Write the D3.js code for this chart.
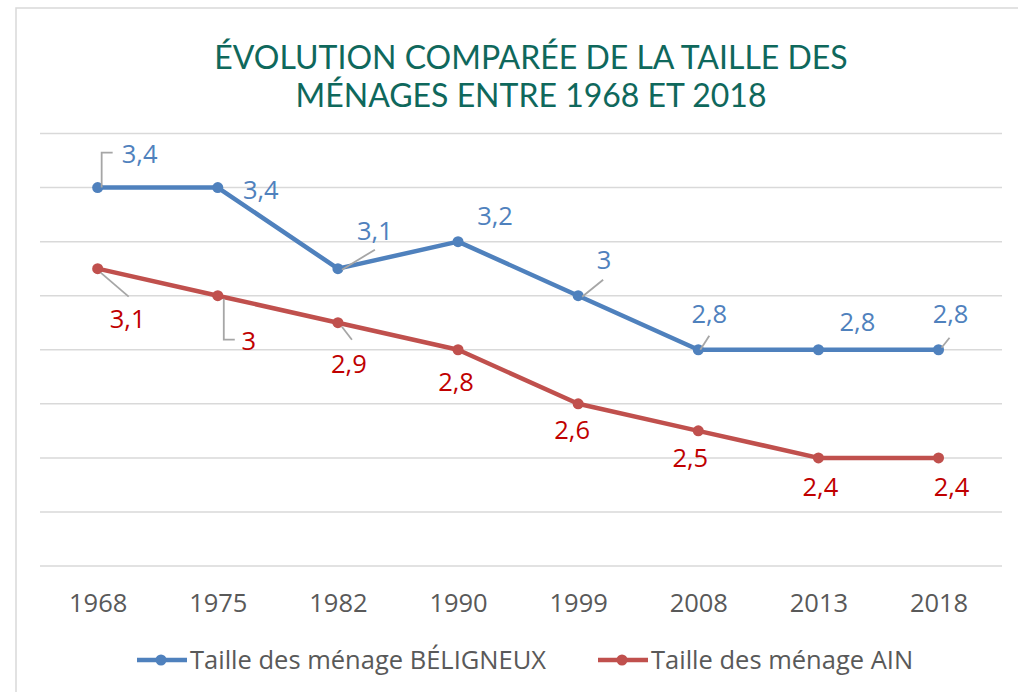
<!DOCTYPE html>
<html>
<head>
<meta charset="utf-8">
<script src="https://cdn.jsdelivr.net/npm/d3@7"></script>
<style>
  body { margin: 0; background: #fff; }
  svg { display: block; }
</style>
</head>
<body>
<div id="chart"></div>
<script>
var years = ["1968", "1975", "1982", "1990", "1999", "2008", "2013", "2018"];
var beligneux = [3.4, 3.4, 3.1, 3.2, 3.0, 2.8, 2.8, 2.8];
var ain = [3.1, 3.0, 2.9, 2.8, 2.6, 2.5, 2.4, 2.4];
var seriesNames = ["Taille des ménage BÉLIGNEUX", "Taille des ménage AIN"];
var titleLines = ["ÉVOLUTION COMPARÉE DE LA TAILLE DES", "MÉNAGES ENTRE 1968 ET 2018"];
var yTicks = [2.0, 2.2, 2.4, 2.6, 2.8, 3.0, 3.2, 3.4, 3.6];

// label placement (Excel labels were dragged by hand), offsets from the point
var blueLabelOff = [[42, -25], [43, 11], [37, -29], [37, -17], [26, -27], [11, -27], [39, -19], [12, -27]];
var redLabelOff = [[30, 59], [31, 54], [11, 50], [-2, 41], [-6, 35], [-8, 36], [2, 38], [13, 38]];
var blueLeaders = {0: [[4, 0], [4, -35], [15, -35]], 2: [[4, 1], [37, -19]], 4: [[4, 1], [25, -16]], 5: [[2, 0], [11, -14]], 7: [[3, -2], [11, -12]]};
var redLeaders = {0: [[3, 4], [31, 28]], 1: [[6, 3], [6, 44], [17, 44]], 2: [[4, 4], [14, 17]]};

var W = 1018, H = 692;
var blue = "#4F81BD", red = "#C0504D", blueText = "#4F81BD", redText = "#C00000";

var svg = d3.select("#chart").append("svg")
    .attr("width", W)
    .attr("height", H);

// chart frame
svg.append("rect")
    .attr("x", 16).attr("y", 8)
    .attr("width", 1030).attr("height", 700)
    .attr("fill", "none")
    .attr("stroke", "#D9D9D9")
    .attr("stroke-width", 1.5);

var x = d3.scalePoint().domain(years).range([37.6, 998.6]).padding(0.5);
var y = d3.scaleLinear().domain([2.0, 3.6]).range([566, 133.5]);

svg.append("g")
    .selectAll("line")
    .data(yTicks)
    .join("line")
    .attr("x1", 40).attr("x2", 1002)
    .attr("y1", function(d) { return y(d); })
    .attr("y2", function(d) { return y(d); })
    .attr("stroke", "#D9D9D9")
    .attr("stroke-width", 1.5);

svg.append("g")
    .attr("transform", "translate(0," + y(2.0) + ")")
    .call(d3.axisBottom(x).tickSize(0).tickPadding(0))
    .call(function(g) { g.select(".domain").remove(); })
    .selectAll("text")
    .attr("y", 46)
    .attr("dy", null)
    .style("font-family", "'Open Sans', sans-serif")
    .style("font-size", "25.5px")
    .attr("fill", "#595959");

svg.selectAll(".title")
    .data(titleLines)
    .join("text")
    .attr("class", "title")
    .attr("x", 531)
    .attr("y", function(d, i) { return 69 + i * 38; })
    .attr("text-anchor", "middle")
    .style("font-family", "Lato, sans-serif")
    .style("font-size", "32px")
    .attr("fill", "#0F685C")
    .text(function(d) { return d; });

var line = d3.line()
    .x(function(d, i) { return x(years[i]); })
    .y(function(d) { return y(d); });

function drawSeries(vals, col, txtCol, offs, leaders) {
    var g = svg.append("g");
    g.append("path")
        .datum(vals)
        .attr("d", line)
        .attr("fill", "none")
        .attr("stroke", col)
        .attr("stroke-width", 4.5)
        .attr("stroke-linejoin", "round");
    g.selectAll("circle")
        .data(vals)
        .join("circle")
        .attr("cx", function(d, i) { return x(years[i]); })
        .attr("cy", function(d) { return y(d); })
        .attr("r", 5.5)
        .attr("fill", col);
    Object.keys(leaders).forEach(function(k) {
        var px = x(years[k]), py = y(vals[k]);
        g.append("path")
            .attr("d", d3.line()(leaders[k].map(function(p) { return [px + p[0], py + p[1]]; })))
            .attr("fill", "none")
            .attr("stroke", "#A6A6A6")
            .attr("stroke-width", 1.8);
    });
    g.selectAll("text")
        .data(vals)
        .join("text")
        .attr("x", function(d, i) { return x(years[i]) + offs[i][0]; })
        .attr("y", function(d, i) { return y(d) + offs[i][1]; })
        .attr("text-anchor", "middle")
        .style("font-family", "'Open Sans', sans-serif")
        .style("font-size", "25.5px")
        .attr("fill", txtCol)
        .text(function(d) { return String(d).replace(".", ","); });
}

drawSeries(beligneux, blue, blueText, blueLabelOff, blueLeaders);
drawSeries(ain, red, redText, redLabelOff, redLeaders);

// legend
var legendX = [137, 598];
var lg = svg.selectAll(".legend")
    .data(seriesNames)
    .join("g")
    .attr("class", "legend")
    .attr("transform", function(d, i) { return "translate(" + legendX[i] + ",660)"; });
lg.append("line")
    .attr("x1", 0).attr("x2", 50)
    .attr("stroke", function(d, i) { return i ? red : blue; })
    .attr("stroke-width", 4.5);
lg.append("circle")
    .attr("cx", 24).attr("r", 5.5)
    .attr("fill", function(d, i) { return i ? red : blue; });
lg.append("text")
    .attr("x", 53).attr("y", 8.5)
    .style("font-family", "'Open Sans', sans-serif")
    .style("font-size", "25.5px")
    .attr("fill", "#595959")
    .text(function(d) { return d; });
</script>
</body>
</html>
